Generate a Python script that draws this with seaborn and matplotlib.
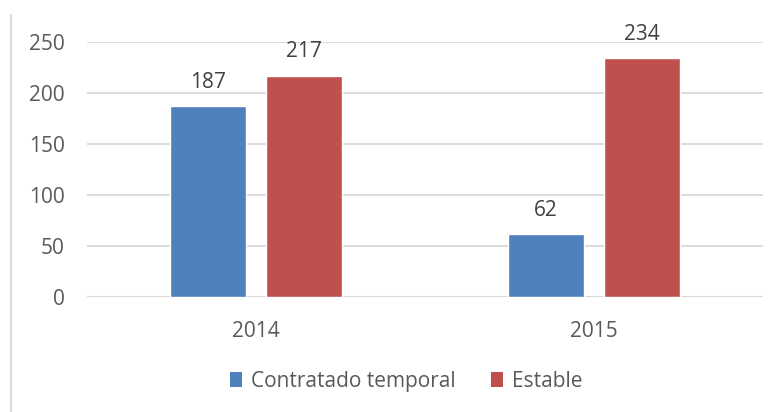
import matplotlib
matplotlib.use("Agg")
import matplotlib.pyplot as plt
from matplotlib.lines import Line2D
from matplotlib.patches import Patch
import seaborn as sns
import pandas as pd

years = ["2014", "2015"]
series = ["Contratado temporal", "Estable"]
contratado = [187, 62]
estable = [217, 234]
colors = ["#4f81bd", "#c0504d"]
yticks = [0, 50, 100, 150, 200, 250]

df = pd.DataFrame({
    "year": years * 2,
    "tipo": [series[0]] * len(years) + [series[1]] * len(years),
    "valor": contratado + estable,
})

sns.set_theme(style="white")
plt.rcParams["font.family"] = ["Open Sans", "DejaVu Sans"]

fig = plt.figure(figsize=(7.79, 4.12), dpi=100)
ax = fig.add_axes([87 / 779, 1 - 297 / 412, 676 / 779, 255 / 412])

sns.barplot(data=df, x="year", y="valor", hue="tipo", order=years,
            hue_order=series, palette=colors, width=0.568, gap=0.208,
            saturation=1, legend=False, ax=ax)

for cont in ax.containers:
    ax.bar_label(cont, padding=9.5, fontsize=15, color="#404040")

ax.set_xlim(-0.5, 1.5)
ax.set_ylim(0, 250)
ax.set_yticks(yticks)
ax.set_yticklabels([str(v) for v in yticks])
ax.yaxis.grid(True, color="#d9d9d9", linewidth=1.3)
ax.set_axisbelow(True)
for s in ax.spines.values():
    s.set_visible(False)
ax.axhline(0, color="#d9d9d9", linewidth=1.5, zorder=0.5)
ax.tick_params(axis="both", length=0, labelsize=15, labelcolor="#595959")
ax.tick_params(axis="y", pad=16)
ax.tick_params(axis="x", pad=17)
ax.set_xlabel("")
ax.set_ylabel("")

handles = [Patch(facecolor=c, edgecolor="none") for c in colors]
fig.legend(handles, series, loc="center", bbox_to_anchor=(406 / 779, 1 - 381.5 / 412),
           ncol=2, frameon=False, fontsize=15, labelcolor="#595959",
           handlelength=0.6, handleheight=0.7, handletextpad=0.4,
           columnspacing=1.7)

fig.add_artist(Line2D([11 / 779, 11 / 779], [0, 1 - 15 / 412],
                      transform=fig.transFigure, color="#d9d9d9", linewidth=1.5))

fig.savefig("out.png", dpi=100)
